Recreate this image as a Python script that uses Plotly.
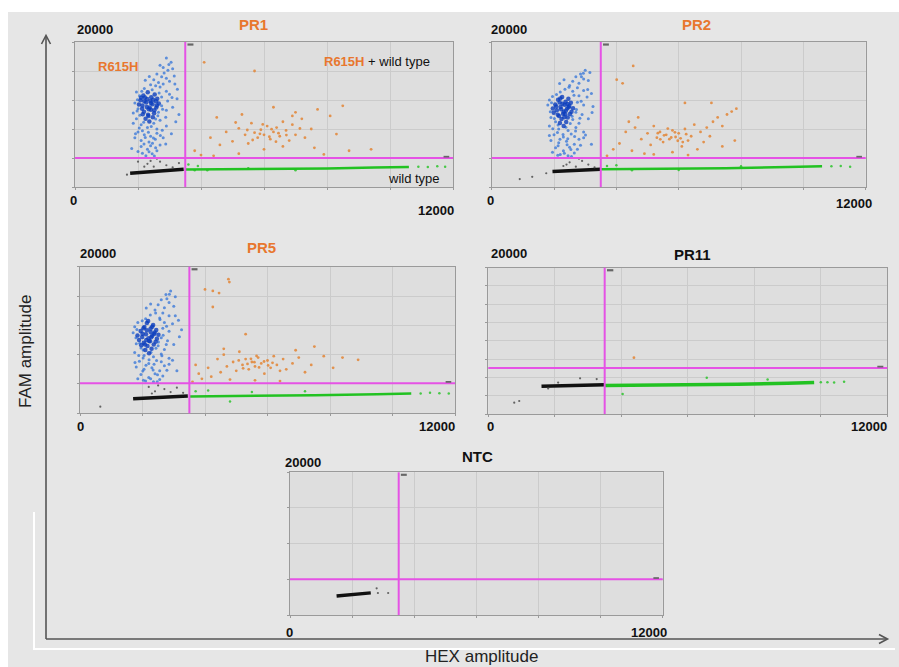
import plotly.graph_objects as go

# ---------------- data (HEX amplitude, FAM amplitude) ----------------
HEX_MAX = 12000
FAM_MAX = 20000

PANEL_NAMES = ["PR1", "PR2", "PR5", "PR11", "NTC"]
THRESH_HEX = [3500, 3500, 3500, 3500, 3500]
THRESH_FAM = [4000, 4000, 4100, 6300, 5000]
GRID_FAM_STEP = [4000, 4000, 4000, 2500, 5000]

PR1_BLUE_CORE = [(2080,11950),(2170,12630),(2310,13080),(2420,12370),(2530,12760),(2610,12180),(2140,11230),(2260,11670),(2370,10960),(2460,11420),(2570,11830),(2190,10380),(2320,9960),(2410,10640),(2510,10170),(2240,9420),(2360,9050),(2470,9630),(2130,10790),(2580,10980),(2290,12140),(2390,11870),(2660,11520),(2030,11380),(2340,10720),(2220,12350),(2480,12050),(2150,10020),(2600,11250),(2280,11030),(2410,11590),(2200,11820),(2520,10590),(2330,9780),(2100,12300)]
PR1_BLUE = [(2900,17800),(3050,17200),(2800,16500),(3100,16300),(2700,16800),(2950,16100),(2600,15600),(2750,15200),(2900,15000),(3000,14600),(2500,14800),(2800,14200),(2650,14400),(3150,15300),(2400,14100),(2200,13600),(2450,13400),(2700,13800),(2900,13200),(3000,12800),(2050,12600),(2750,12400),(1950,13100),(3250,13500),(1900,11600),(2000,10800),(2750,11200),(2900,10600),(3100,11000),(1850,10200),(2650,10300),(3300,10000),(1950,9400),(2100,8600),(2300,8200),(2500,8800),(2700,9200),(2900,8400),(1850,8800),(2600,8000),(3200,9000),(2000,7600),(2200,7200),(2400,7000),(2600,7400),(2800,6800),(2100,6400),(2350,6200),(2550,6600),(1900,6800),(2100,5600),(2300,5200),(2450,4600),(2250,4300),(2600,5000),(2000,4900),(2700,5800),(2400,5700),(1800,5300),
            (2230,14720),(2560,13970),(2830,15740),(2670,12980),(2940,11870),(3080,12330),(1980,12050),(2120,13220),(2780,10720),(2630,9840),(2880,9620),(1970,10470),(2060,9880),(2180,8930),(2420,8360),(2560,9370),(2770,7840),(2140,7770),(2330,7560),(2490,6770),(2710,7120),(2230,6840),(2460,6020),(2190,5930),(2560,5430),(2350,4870),(2140,4640),(2520,4270),(2880,5920),(3060,7330),(3240,12170),(3170,14220),(2980,16900),(2360,15240),(2040,8140),(1920,7330)]
PR1_ORANGE = [(4100,17200),(5700,16000),(3800,5000),(4000,4400),(4300,6800),(4600,5800),(4800,7600),(5000,6300),(5200,8100),(5400,7200),(5500,6000),(5600,8800),(5700,7500),(5800,6800),(5900,7900),(6000,7200),(6100,8400),(6200,6600),(6300,7600),(6400,8200),(6500,7000),(6600,9000),(6700,7800),(6800,6400),(6900,8600),(7000,7200),(7200,9400),(7300,6800),(7500,8000),(7700,10700),(7900,4500),(8100,9800),(8300,7300),(8700,5000),(9400,5200),(4500,9600),(5300,10000),(6300,11000),(7000,10300),(8500,11200),(6000,5200),(6600,5600),(5200,4600),(4400,4300),(7600,5400),(5100,8900),(6900,9800),
              (5870,7330),(6170,6930),(6240,7970),(6460,7420),(5640,6480),(6710,7160),(5960,8630),(6380,6250),(7140,8070),(5470,7860)]
PR1_GREEN_BAND = [(3500,2400),(5000,2420),(6500,2480),(8000,2560),(9500,2680),(10600,2750)]
PR1_GREEN = [(3600,3100),(3900,2900),(4200,2300),(10900,2800),(11200,2750),(11500,2850),(11750,2800),(7000,2300),(5500,2600),(3800,2300)]
PR1_BLACK_BAND = [(1750,1900),(2300,2100),(2900,2300),(3450,2450)]
PR1_BLACK = [(2000,3500),(2200,2800),(2300,3200),(2500,2800),(2600,3900),(2700,3500),(2900,3000),(3100,2700),(3300,3300),(2400,3600),(1650,1700)]

PR2_BLUE_CORE = [(2040,11380),(2130,12040),(2260,12430),(2370,11760),(2460,12180),(2540,11620),(2090,10570),(2210,11030),(2310,10380),(2420,10830),(2490,11210),(2160,9790),(2240,9370),(2360,10020),(2440,9580),(2190,8830),(2310,8420),(2390,8980),(1990,10230),(2560,10380),(2270,11480),(2340,11330),(2610,10870),(1960,10820),(2290,10110),(2180,11640),(2430,11460),(2120,9960),(2510,10060),(2230,10740),(2380,10520),(2070,11090),(2330,9620),(2470,11000),(2200,12200)]
PR2_BLUE = [(3000,16100),(2850,15600),(3150,15800),(2700,15200),(2950,14900),(2600,14600),(2800,14300),(3100,14700),(2500,14000),(2750,13700),(2350,13500),(2950,13300),(2200,13100),(2600,13200),(3200,12900),(1950,12500),(2800,12600),(1850,12000),(2750,11700),(2950,11300),(3250,11100),(1800,11300),(2700,10300),(2900,10000),(1900,9600),(2050,9000),(2600,9300),(2800,8800),(3100,9400),(1850,8400),(2150,8000),(2450,7800),(2700,8200),(2950,7600),(2000,7200),(2300,6900),(2550,7300),(2800,6600),(1900,6400),(2150,6100),(2400,6300),(2650,5900),(2950,6800),(2050,5400),(2300,5000),(2500,5500),(2750,5200),(2200,4500),(2450,4300),(2650,4700),(1950,4800),(3200,5900),
            (2180,14260),(2480,13760),(2880,15220),(2640,12670),(2870,11840),(3060,12430),(1920,11620),(2080,12760),(2720,10680),(2580,9770),(2830,9480),(1880,10380),(2010,9460),(2130,8540),(2380,8230),(2520,8760),(2690,7740),(2110,7530),(2290,7240),(2440,6640),(2660,6980),(2190,6590),(2420,5830),(2130,5690),(2540,5160),(2330,4640),(2120,4380),(2560,4220),(2850,5770),(3010,7180),(3220,10260),(3080,13460),(2940,15700),(2320,14780),(1960,8030),(1850,7090)]
PR2_ORANGE = [(4540,16700),(4010,14800),(4200,14300),(6200,11600),(7050,11600),(3700,4300),(3900,5200),(4100,6000),(4300,7600),(4500,5000),(4600,8200),(4800,6600),(4900,4600),(5000,7400),(5100,5800),(5200,8400),(5300,6800),(5400,7600),(5500,6200),(5600,7200),(5700,6600),(5800,7800),(5900,6900),(6000,7400),(6100,5600),(6200,8000),(6300,6400),(6400,7000),(6500,8600),(6600,5200),(6700,7600),(6800,6200),(6900,8200),(7000,7000),(7100,9000),(7250,9600),(7400,8400),(7550,10000),(7700,10400),(7850,10800),(5200,4500),(5800,4800),(6300,4400),(4400,9000),(4700,9600),(7400,5600),(7800,6400),
              (5530,7130),(5760,6830),(5880,7540),(6060,6720),(5410,6570),(6240,7280),(5650,8060),(6130,6190),(5330,7420),(5970,6380)]
PR2_GREEN_BAND = [(3500,2450),(5500,2500),(7500,2600),(9500,2750),(10600,2850)]
PR2_GREEN = [(3700,2900),(4000,3000),(4500,2300),(10900,2850),(11200,2900),(11500,2800),(8000,2850),(6000,2350)]
PR2_BLACK_BAND = [(1950,2150),(2600,2300),(3100,2400),(3500,2450)]
PR2_BLACK = [(900,1100),(1300,1400),(1750,1900),(2300,2900),(2500,3400),(2700,2800),(2900,3600),(3100,3100),(2800,3900),(3300,2700),(2400,3100)]

PR5_BLUE_CORE = [(1940,11230),(2060,11790),(2140,12310),(2260,11570),(2340,12030),(2440,11380),(1990,10420),(2110,10780),(2190,10230),(2310,10590),(2390,11040),(2040,9620),(2160,9180),(2240,9830),(2360,9370),(2090,8630),(2210,8190),(2290,8820),(1890,9990),(2460,10180),(2140,11320),(2260,11090),(2510,10730),(1840,10610),(2210,9880),(2030,11600),(2310,11800),(1960,9300),(2420,9760),(2120,10010),(2280,10360),(2000,10850),(2180,12600),(2370,10820),(2080,9400)]
PR5_BLUE = [(2900,16700),(2750,16200),(3050,15900),(2600,15500),(2850,15100),(2500,14800),(2700,14400),(3000,14600),(2400,14100),(2650,13700),(2250,13400),(2850,13300),(2100,12900),(2550,13000),(3150,12700),(1850,12400),(2700,12400),(1750,11800),(2650,11600),(2850,11200),(3250,11400),(1700,11000),(2600,10300),(2800,9900),(1800,9500),(1950,8900),(2500,9200),(2700,8700),(3000,9400),(1750,8300),(2050,7900),(2350,7700),(2600,8100),(2850,7500),(1900,7100),(2200,6800),(2450,7200),(2700,6500),(1800,6300),(2050,6000),(2300,6200),(2550,5800),(2850,6700),(1950,5300),(2200,4900),(2400,5400),(2650,5100),(2100,4400),(2350,4300),(2550,4600),(1850,4700),(3100,5800),
            (2120,14360),(2420,13680),(2780,15620),(2560,12780),(2770,11870),(2960,12210),(1820,11430),(1990,12630),(2660,10660),(2510,9730),(2760,9370),(1790,10320),(1910,9570),(2020,8640),(2270,8330),(2430,8860),(2620,7860),(2020,7560),(2210,7320),(2370,6690),(2600,7040),(2110,6570),(2340,5910),(2010,5780),(2480,5260),(2260,4720),(2030,4520),(2470,4290),(2780,5880),(2960,7240),(3180,10460),(3050,13310),(2860,16250),(2260,14900),(1880,7880),(1760,6920)]
PR5_ORANGE = [(4000,16900),(4250,16700),(4450,16400),(4750,18300),(4780,17900),(4250,14500),(5300,10800),(3600,4300),(3800,5400),(3900,4700),(4100,6200),(4200,5000),(4400,7400),(4500,5600),(4600,8000),(4700,6400),(4800,4600),(4900,7000),(5000,5800),(5100,8400),(5200,6600),(5300,7400),(5400,6000),(5500,7000),(5600,6400),(5700,7600),(5800,6800),(5900,5400),(6000,7200),(6100,6200),(6200,7800),(6300,6600),(6400,5800),(6500,7400),(6600,6000),(6800,6800),(7000,7600),(7200,5600),(7400,6600),(7500,9100),(7800,7800),(8100,6200),(8400,7600),(8900,7300),(5600,4500),(6400,4400),(4600,8800),(6900,8600),(3700,6600),
              (5360,6730),(5580,6980),(5730,6260),(5470,7430),(5890,7070),(5220,6140),(6020,6530),(5650,7830),(6160,6880),(5080,7220)]
PR5_GREEN_BAND = [(3500,2300),(5500,2350),(7500,2450),(9500,2600),(10600,2700)]
PR5_GREEN = [(3700,3000),(4100,3100),(4800,1600),(5500,2900),(10900,2700),(11200,2800),(11500,2750),(11800,2700),(7200,3000)]
PR5_BLACK_BAND = [(1700,2000),(2300,2150),(3000,2300),(3450,2350)]
PR5_BLACK = [(2200,3600),(2400,3000),(2500,3800),(2700,3300),(2900,2900),(3100,3500),(2300,2700),(3300,2800),(650,900)]

PR11_BLUE_CORE = []
PR11_BLUE = []
PR11_ORANGE = [(4380,7700)]
PR11_GREEN_BAND = [(3500,3880),(5500,3950),(7500,4080),(9000,4200),(9800,4300)]
PR11_GREEN = [(10000,4350),(10200,4350),(10400,4300),(10700,4420),(4040,2730),(6570,4960),(8400,4700)]
PR11_BLACK_BAND = [(1600,3800),(2300,3880),(3000,3950),(3500,4000)]
PR11_BLACK = [(780,1550),(930,1780),(2760,4880),(3260,4780),(1800,3500),(2100,4300)]

NTC_BLUE_CORE = []
NTC_BLUE = []
NTC_ORANGE = []
NTC_GREEN_BAND = []
NTC_GREEN = []
NTC_BLACK_BAND = [(1500,2650),(2000,2850),(2600,3100)]
NTC_BLACK = [(2790,3740),(3160,3080),(2830,3080)]

DATA = {
    "PR1": (PR1_BLUE_CORE, PR1_BLUE, PR1_ORANGE, PR1_GREEN_BAND, PR1_GREEN, PR1_BLACK_BAND, PR1_BLACK),
    "PR2": (PR2_BLUE_CORE, PR2_BLUE, PR2_ORANGE, PR2_GREEN_BAND, PR2_GREEN, PR2_BLACK_BAND, PR2_BLACK),
    "PR5": (PR5_BLUE_CORE, PR5_BLUE, PR5_ORANGE, PR5_GREEN_BAND, PR5_GREEN, PR5_BLACK_BAND, PR5_BLACK),
    "PR11": (PR11_BLUE_CORE, PR11_BLUE, PR11_ORANGE, PR11_GREEN_BAND, PR11_GREEN, PR11_BLACK_BAND, PR11_BLACK),
    "NTC": (NTC_BLUE_CORE, NTC_BLUE, NTC_ORANGE, NTC_GREEN_BAND, NTC_GREEN, NTC_BLACK_BAND, NTC_BLACK),
}

# ---------------- layout helpers (pixel -> paper) ----------------
W, H = 899, 667
def px(x): return x / W
def py(y): return 1 - y / H

# plot-area pixel boxes (left, right, top, bottom)
BOXES = {
    "PR1": (75, 453, 42, 187),
    "PR2": (491.7, 865.7, 42, 187),
    "PR5": (80, 455, 266.7, 413.3),
    "PR11": (488.3, 887.3, 267.7, 414),
    "NTC": (290, 662.7, 472.3, 615),
}
# label positions: title, 20000, 0, 12000
LABELS = {
    "PR1": ((253, 24), (95, 30), (73, 200), (436, 210)),
    "PR2": ((696, 24), (508.7, 30), (490.7, 200), (853.7, 203)),
    "PR5": ((261, 248), (98, 253), (80, 426), (437, 426)),
    "PR11": ((692, 254), (508.7, 253), (490.7, 426), (868.5, 426)),
    "NTC": ((477.7, 456), (303, 462), (289.3, 632), (648.7, 632)),
}
TITLE_COLORS = {"PR1": "#e8772e", "PR2": "#e8772e", "PR5": "#e8772e", "PR11": "#111111", "NTC": "#111111"}

ORANGE_TXT = "#e8772e"
FONT = "Arial, Liberation Sans, sans-serif"
BLUE_CORE = "#0b3dbd"
BLUE = "#3173d8"
ORANGE = "#e28a3e"
GREEN = "#22c222"
BLACK = "#111111"
MAGENTA = "#e552e5"

fig = go.Figure()
annotations = []
shapes = []
layout = {}

def xs(pts): return [p[0] for p in pts]
def ys(pts): return [p[1] for p in pts]

for i, name in enumerate(PANEL_NAMES, start=1):
    xa = "x" if i == 1 else f"x{i}"
    ya = "y" if i == 1 else f"y{i}"
    l, r, t, b = BOXES[name]
    layout[f"xaxis{'' if i == 1 else i}"] = dict(
        domain=[px(l), px(r)], anchor=ya, range=[0, HEX_MAX], dtick=2000, tick0=0,
        showticklabels=False, showgrid=True, gridcolor="#cbcbcb", gridwidth=1,
        zeroline=False, showline=True, linecolor="#9a9a9a", linewidth=1.2, mirror=True,
        ticks="outside", ticklen=2, tickcolor="#9a9a9a", fixedrange=True)
    layout[f"yaxis{'' if i == 1 else i}"] = dict(
        domain=[py(b), py(t)], anchor=xa, range=[0, FAM_MAX], dtick=GRID_FAM_STEP[i - 1], tick0=0,
        showticklabels=False, showgrid=True, gridcolor="#cbcbcb", gridwidth=1,
        zeroline=False, showline=True, linecolor="#9a9a9a", linewidth=1.2, mirror=True,
        ticks="outside", ticklen=2, tickcolor="#9a9a9a", fixedrange=True)

    blue_core, blue, orange, green_band, green, black_band, black = DATA[name]
    if green_band:
        fig.add_trace(go.Scatter(x=xs(green_band), y=ys(green_band), mode="lines",
                                 line=dict(color=GREEN, width=3.5 if name == "PR11" else 2.5),
                                 xaxis=xa, yaxis=ya, hoverinfo="skip"))
    if green:
        fig.add_trace(go.Scatter(x=xs(green), y=ys(green), mode="markers",
                                 marker=dict(color=GREEN, size=2.5, opacity=0.8),
                                 xaxis=xa, yaxis=ya, hoverinfo="skip"))
    if black_band:
        fig.add_trace(go.Scatter(x=xs(black_band), y=ys(black_band), mode="lines",
                                 line=dict(color=BLACK, width=3.5),
                                 xaxis=xa, yaxis=ya, hoverinfo="skip"))
    if black:
        fig.add_trace(go.Scatter(x=xs(black), y=ys(black), mode="markers",
                                 marker=dict(color="#444444", size=2.2, opacity=0.8),
                                 xaxis=xa, yaxis=ya, hoverinfo="skip"))
    if orange:
        fig.add_trace(go.Scatter(x=xs(orange), y=ys(orange), mode="markers",
                                 marker=dict(color=ORANGE, size=2.8, opacity=0.9),
                                 xaxis=xa, yaxis=ya, hoverinfo="skip"))
    if blue:
        fig.add_trace(go.Scatter(x=xs(blue), y=ys(blue), mode="markers",
                                 marker=dict(color=BLUE, size=3, opacity=0.75),
                                 xaxis=xa, yaxis=ya, hoverinfo="skip"))
    if blue_core:
        fig.add_trace(go.Scatter(x=xs(blue_core), y=ys(blue_core), mode="markers",
                                 marker=dict(color=BLUE_CORE, size=4.5, opacity=0.8),
                                 xaxis=xa, yaxis=ya, hoverinfo="skip"))

    # threshold lines
    shapes.append(dict(type="line", xref=xa, yref=f"{ya} domain", x0=THRESH_HEX[i - 1], x1=THRESH_HEX[i - 1],
                       y0=0, y1=1, line=dict(color=MAGENTA, width=2)))
    shapes.append(dict(type="line", xref=f"{xa} domain", yref=ya, x0=0, x1=1,
                       y0=THRESH_FAM[i - 1], y1=THRESH_FAM[i - 1], line=dict(color=MAGENTA, width=2)))
    shapes.append(dict(type="rect", xref=xa, yref=f"{ya} domain", x0=THRESH_HEX[i - 1] + 70, x1=THRESH_HEX[i - 1] + 260,
                       y0=0.975, y1=0.99, fillcolor="#666666", line=dict(width=0)))
    shapes.append(dict(type="rect", xref=f"{xa} domain", yref=ya, x0=0.975, x1=0.99,
                       y0=THRESH_FAM[i - 1] + 60, y1=THRESH_FAM[i - 1] + 300, fillcolor="#666666", line=dict(width=0)))

    (tx, ty), (ax20, ay20), (ax0, ay0), (ax12, ay12) = LABELS[name]
    annotations.append(dict(text=f"<b>{name}</b>", x=px(tx), y=py(ty), xref="paper", yref="paper",
                            showarrow=False, xanchor="center", yanchor="middle",
                            font=dict(family=FONT, size=15, color=TITLE_COLORS[name])))
    for txt, (lx, ly) in (("20000", (ax20, ay20)), ("0", (ax0, ay0)), ("12000", (ax12, ay12))):
        annotations.append(dict(text=f"<b>{txt}</b>", x=px(lx), y=py(ly), xref="paper", yref="paper",
                                showarrow=False, xanchor="center", yanchor="middle",
                                font=dict(family=FONT, size=13, color="#111111")))

# cluster labels in PR1
annotations.append(dict(text=f"<b>R615H</b>", x=px(118), y=py(66), xref="paper", yref="paper",
                        showarrow=False, xanchor="center", yanchor="middle",
                        font=dict(family=FONT, size=13, color=ORANGE_TXT)))
annotations.append(dict(text=f"<span style='color:{ORANGE_TXT}'><b>R615H</b></span> + wild type",
                        x=px(432), y=py(62), xref="paper", yref="paper",
                        showarrow=False, xanchor="right", yanchor="middle",
                        font=dict(family=FONT, size=13, color="#111111")))
annotations.append(dict(text="wild type", x=px(442), y=py(178), xref="paper", yref="paper",
                        showarrow=False, xanchor="right", yanchor="middle",
                        font=dict(family=FONT, size=13, color="#111111")))

# big axis titles
annotations.append(dict(text="FAM amplitude", x=px(25), y=py(352), xref="paper", yref="paper",
                        showarrow=False, textangle=-90, xanchor="center", yanchor="middle",
                        font=dict(family=FONT, size=17, color="#222222")))
annotations.append(dict(text="HEX amplitude", x=px(481), y=py(656), xref="paper", yref="paper",
                        showarrow=False, xanchor="center", yanchor="middle",
                        font=dict(family=FONT, size=17, color="#222222")))

# page decoration: white margins, white L, arrows
shapes.append(dict(type="rect", xref="paper", yref="paper", x0=0, x1=1, y0=py(12), y1=1,
                   fillcolor="white", line=dict(width=0), layer="below"))
shapes.append(dict(type="rect", xref="paper", yref="paper", x0=0, x1=px(8), y0=0, y1=1,
                   fillcolor="white", line=dict(width=0), layer="below"))
shapes.append(dict(type="path", xref="paper", yref="paper",
                   path=f"M {px(34)} {py(512)} L {px(34)} {py(649)} L {px(895)} {py(649)}",
                   line=dict(color="white", width=2)))
AX = "#555555"
shapes.append(dict(type="line", xref="paper", yref="paper", x0=px(46), x1=px(46), y0=py(639), y1=py(36),
                   line=dict(color=AX, width=1.6)))
shapes.append(dict(type="line", xref="paper", yref="paper", x0=px(46), x1=px(887), y0=py(639), y1=py(639),
                   line=dict(color=AX, width=1.6)))
shapes.append(dict(type="path", xref="paper", yref="paper",
                   path=f"M {px(41.5)} {py(44)} L {px(46)} {py(35.5)} L {px(50.5)} {py(44)}",
                   line=dict(color=AX, width=1.6)))
shapes.append(dict(type="path", xref="paper", yref="paper",
                   path=f"M {px(879)} {py(634.5)} L {px(887.5)} {py(639)} L {px(879)} {py(643.5)}",
                   line=dict(color=AX, width=1.6)))

fig.update_layout(
    width=W, height=H, margin=dict(l=0, r=0, t=0, b=0),
    paper_bgcolor="#e6e6e6", plot_bgcolor="#dedede",
    showlegend=False, annotations=annotations, shapes=shapes, **layout)

fig.write_html("out.html", config={"displayModeBar": False},
               post_script="document.body.style.margin='0px';document.body.style.overflow='hidden';")
